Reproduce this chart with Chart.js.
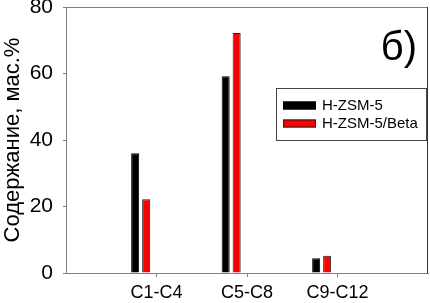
<!DOCTYPE html>
<html>
<head>
<meta charset="utf-8">
<script src="https://cdn.jsdelivr.net/npm/chart.js@4"></script>
<style>
  html, body { margin: 0; padding: 0; background: #fff; }
  #wrap { width: 430px; height: 303px; }
</style>
</head>
<body>
<div id="wrap"><canvas id="fractionChart"></canvas></div>
<script>
const categories = ["C1-C4", "C5-C8", "C9-C12"];
const hzsm5 = [36, 59.2, 4.4];
const hzsm5Beta = [22.2, 72.2, 5.2];
const yTicks = [0, 20, 40, 60, 80];

const font = "'Liberation Sans', Arial, sans-serif";
const axisGray = "#808080";

// bars sit at category index 1..n on a linear axis
const toPoints = (vals) => vals.map((v, i) => ({ x: i + 1, y: v }));
const categoryTicks = (axis) => {
  axis.ticks = categories.map((c, i) => ({ value: i + 1 }));
};

// frame on top/right, the "б)" mark and the boxed legend
const extras = {
  id: "extras",
  afterDraw(chart) {
    const { ctx, chartArea: a } = chart;
    ctx.save();
    ctx.lineWidth = 1;
    ctx.strokeStyle = axisGray;
    ctx.beginPath();
    ctx.moveTo(a.left, a.top + 0.5);
    ctx.lineTo(a.right, a.top + 0.5);
    ctx.stroke();
    ctx.strokeStyle = "#333";
    ctx.beginPath();
    ctx.moveTo(a.right - 0.5, a.top);
    ctx.lineTo(a.right - 0.5, a.bottom);
    ctx.stroke();

    ctx.fillStyle = "#000";
    ctx.font = "40px " + font;
    ctx.textAlign = "right";
    ctx.textBaseline = "alphabetic";
    ctx.fillText("б)", a.right - 11, 60);

    // legend
    const bx = 276, by = 88.5, bw = 150, bh = 52;
    ctx.strokeStyle = "#444";
    ctx.strokeRect(bx + 0.5, by, bw, bh);
    ctx.font = "15px " + font;
    ctx.textAlign = "left";
    ctx.textBaseline = "middle";
    chart.data.datasets.forEach((ds, i) => {
      const cy = 105.5 + i * 18;
      ctx.fillStyle = ds.backgroundColor;
      ctx.fillRect(283, cy - 4, 33, 8);
      ctx.strokeStyle = ds.borderColor;
      ctx.strokeRect(283.5, cy - 3.5, 32, 7);
      ctx.fillStyle = "#000";
      ctx.fillText(ds.label, 322, cy);
    });
    ctx.restore();
  },
};

const ctx = document.getElementById("fractionChart").getContext("2d");
const fractionChart = new Chart(ctx, {
  type: "bar",
  data: {
    datasets: [
      {
        label: "H-ZSM-5",
        data: toPoints(hzsm5),
        backgroundColor: "#000000",
        borderColor: "#000000",
        borderWidth: 1,
        xAxisID: "xb",
      },
      {
        label: "H-ZSM-5/Beta",
        data: toPoints(hzsm5Beta),
        backgroundColor: "#ff0000",
        borderColor: "#222222",
        borderWidth: 1,
        xAxisID: "xb",
      },
    ],
  },
  options: {
    responsive: true,
    maintainAspectRatio: false,
    animation: false,
    categoryPercentage: 0.243,
    barPercentage: 0.73,
    layout: { padding: { top: 7, right: 2, left: 0, bottom: 0 } },
    scales: {
      xb: {
        type: "linear",
        display: false,
        offset: false,
        grid: { offset: false },
        min: 0.175,
        max: 4.175,
        afterBuildTicks: categoryTicks,
      },
      x: {
        type: "linear",
        position: "bottom",
        offset: false,
        min: 0,
        max: 4,
        afterBuildTicks: categoryTicks,
        afterFit: (axis) => { axis.height = 30; },
        ticks: {
          callback: (v) => categories[v - 1],
          color: "#000",
          font: { family: font, size: 18 },
          padding: 5,
          maxRotation: 0,
          autoSkip: false,
        },
        grid: { offset: false, drawOnChartArea: false, tickLength: 4, tickColor: axisGray },
        border: { color: axisGray },
      },
      y: {
        min: 0,
        max: 80,
        afterBuildTicks: (axis) => {
          axis.ticks = yTicks.map((v) => ({ value: v }));
        },
        afterFit: (axis) => {
          axis.width = 66;
          axis.paddingTop = 0;
          axis.paddingBottom = 0;
        },
        ticks: {
          color: "#000",
          font: { family: font, size: 21 },
          padding: 10,
        },
        title: {
          display: true,
          text: "Содержание, мас.%",
          color: "#000",
          font: { family: font, size: 22 },
          padding: { top: 0, bottom: 0 },
        },
        grid: { drawOnChartArea: false, tickLength: 3, tickColor: axisGray },
        border: { color: axisGray },
      },
    },
    plugins: {
      legend: { display: false },
      tooltip: { enabled: false },
    },
  },
  plugins: [extras],
});
</script>
</body>
</html>
